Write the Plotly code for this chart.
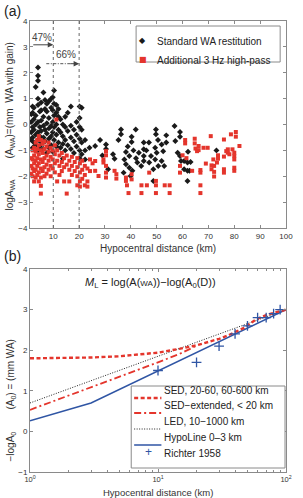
import plotly.graph_objects as go

# ---------------- Panel (a) data ----------------
std_x = ([1.5]*4 + [2.0]*5 + [2.5]*4 + [3.2]*5 + [4.1]*9 + [4.8]*4 + [5.3]*5 + [6.2]*5 +
         [6.8]*4 + [7.5]*5 + [8.3]*5 + [9.2]*5 + [9.8]*5 + [10.3]*5 + [11.2]*5 + [12.0]*4 +
         [12.8]*3 + [13.7]*4 + [14.6]*4 + [15.6]*3 + [16.8]*4 + [18.0]*3 + [19.0]*3 + [20.2]*6 +
         [21.0]*4 + [22.3]*3 +
         [24.0, 26.2, 28.1, 29.0, 30.4, 30.4, 31.2, 33.1, 33.7, 35.2, 36.2, 36.2, 37.2, 37.5,
          38.1, 38.1, 38.8, 39.4, 39.4, 39.9, 40.3, 40.3, 40.6, 41.0, 41.9, 42.0, 42.5, 43.1,
          44.0, 45.0, 45.0, 45.0, 45.0, 46.0, 47.0, 47.1, 47.8, 48.7, 48.7, 49.4, 49.4, 49.7,
          49.7, 50.0, 50.5, 50.6, 51.9, 51.9, 52.5, 52.9, 53.7, 53.7, 56.9, 57.2, 58.1, 59.0,
          59.0, 59.0, 59.4, 60.6, 60.6, 61.9, 61.9, 61.9, 62.1, 62.7, 63.1, 73.1])
std_y = ([0.4, 0.1, -0.3, -0.6] +
         [0.7, 0.45, -0.1, -0.5, -0.9] +
         [0.65, 0.2, -0.2, -0.7] +
         [1.45, 0.35, 0.0, -0.4, -0.8] +
         [2.2, 1.88, 1.69, 1.0, 0.75, 0.1, -0.3, -0.6, -1.0] +
         [0.5, -0.1, -0.45, -0.85] +
         [0.85, 0.55, 0.15, -0.25, -0.7] +
         [1.24, 0.3, -0.05, -0.5, -0.95] +
         [0.95, 0.6, -0.2, -0.65] +
         [0.8, 0.5, 0.05, -0.35, -1.1] +
         [0.9, 0.25, -0.15, -0.55, -0.9] +
         [1.0, 0.65, -0.05, -0.45, -0.8] +
         [1.05, 0.55, 0.1, -0.3, -1.05] +
         [1.31, 0.8, 0.35, -0.1, -0.6] +
         [0.75, 0.45, 0.0, -0.4, -0.85] +
         [0.6, 0.3, -0.2, -0.7] +
         [0.2, -0.3, -0.9] +
         [0.0, -0.45, -0.75, -1.32] +
         [0.3, -0.1, -0.6, -1.0] +
         [0.45, -0.25, -0.8] +
         [0.7, -0.05, -0.5, -0.95] +
         [-0.2, -0.65, -1.1] +
         [0.1, -0.4, -0.85] +
         [0.7, 0.25, -0.1, -0.55, -1.0, -1.3] +
         [0.65, -0.2, -0.7, -1.15] +
         [-0.6, -1.0, -1.35] +
         [-0.9, -0.83, -0.6, -1.2, -0.77, -0.95, -1.73, -1.15, -1.32, -0.6, -0.19, -0.38, -1.86, -1.35,
          -1.06, -1.54, -0.85, -1.22, -1.67, -1.99, -0.47, -0.68, -1.79, -1.0, -0.19, -1.3, -1.47, -1.09,
          -1.6, -0.7, -0.96, -1.22, -1.41, -1.0, -0.7, -1.47, -1.22, -1.73, -2.18, -0.9, -1.35, -0.19,
          -0.38, -1.09, -0.6, -1.6, -0.77, -1.41, -1.03, -1.6, -0.42, -0.7, -0.06, -0.64, -1.09, -0.29,
          -0.47, -1.22, -1.41, -1.41, -1.73, -1.47, -1.79, -2.18, -1.05, -1.79, -1.45, -1.0])

hp_x = ([1.5]*3 + [2.0]*4 + [2.6]*5 + [3.2]*5 + [3.8]*5 + [4.4]*6 + [5.2]*7 + [5.9]*4 +
        [6.6]*5 + [7.4]*4 + [8.2]*4 + [9.0]*4 + [9.8]*3 + [10.6]*4 + [11.2] + [11.5]*3 +
        [12.4]*3 + [13.3]*3 + [14.2]*3 + [15.2]*3 + [16.2]*3 + [17.2]*3 + [18.3]*2 + [19.3]*4 +
        [20.3]*4 + [21.2]*3 + [22.2]*3 + [23.2]*3 + [24.2]*2 +
        [25.2, 26.2, 26.2, 27.5, 29.4, 29.4, 30.4, 30.4, 30.4, 30.4, 30.4, 33.7, 34.4, 34.4,
         38.1, 38.1, 38.5, 39.1, 40.3, 40.3, 44.1, 44.1, 46.2, 47.1, 49.7, 49.7, 49.7, 53.1,
         55.0, 55.0, 59.0, 59.0, 60.0, 61.0, 61.0, 61.5, 63.7, 64.7, 64.7, 65.0, 65.6, 66.2,
         66.2, 66.9, 66.9, 66.9, 66.9, 68.1, 69.0, 69.7, 70.9, 71.2, 71.2, 71.9, 72.2, 72.2,
         72.2, 73.3, 73.7, 73.7, 76.0, 76.0, 76.0, 76.0, 76.9, 77.5, 77.5, 78.1, 78.7, 79.3,
         80.0, 80.0, 80.0, 80.0, 80.0, 80.6, 80.6, 82.0])
hp_y = ([-1.3, -1.6, -1.9] +
        [-1.0, -1.35, -1.7, -2.0] +
        [-0.9, -1.2, -1.5, -1.8, -2.2] +
        [-0.7, -1.05, -1.4, -1.75, -2.05] +
        [-0.6, -0.95, -1.3, -1.6, -1.95] +
        [-0.45, -0.8, -1.15, -1.5, -1.85, -2.2] +
        [-0.6, -1.0, -1.35, -1.7, -2.05, -2.37, -2.67] +
        [-0.75, -1.1, -1.45, -1.8] +
        [-0.65, -0.95, -1.3, -1.65, -2.0] +
        [-0.85, -1.2, -1.55, -1.9] +
        [-0.7, -1.05, -1.4, -1.75] +
        [-0.9, -1.25, -1.6, -2.0] +
        [-1.0, -1.35, -1.7] +
        [-0.8, -1.15, -1.5, -1.85] +
        [0.19] +
        [-1.0, -1.4, -2.2] +
        [-1.2, -1.6, -1.95] +
        [-1.1, -1.45, -1.8] +
        [-1.3, -1.65, -2.2] +
        [-1.2, -1.55, -2.67] +
        [-1.4, -1.75, -2.2] +
        [-1.25, -1.6, -1.95] +
        [-1.45, -1.8] +
        [-1.3, -1.65, -2.0, -2.35] +
        [-1.5, -1.85, -2.2, -2.4] +
        [-1.4, -1.75, -2.1] +
        [-1.6, -1.95, -2.35] +
        [-1.7, -2.2, -2.4] +
        [-1.35, -1.8] +
        [-1.5, -1.41, -1.79, -1.99, -1.35, -1.47, -1.03, -1.19, -1.6, -1.86, -2.05, -1.79, -1.92, -2.09,
         -2.05, -2.18, -2.35, -2.65, -1.92, -2.12, -2.35, -2.65, -2.35, -1.86, -2.18, -2.35, -2.65, -2.35,
         -2.35, -2.65, -1.6, -1.86, -1.19, -0.6, -0.73, -1.3, -1.79, -0.55, -0.73, -0.93, -1.03, -0.83,
         -0.99, -1.76, -1.86, -2.35, -2.65, -0.9, -1.51, -0.9, -0.45, -1.58, -1.73, -1.35, -1.6, -1.83,
         -2.01, -1.47, -1.19, -1.32, -0.58, -1.24, -1.73, -1.86, -1.03, -0.96, -1.09, -1.15, -0.38, -0.96,
         -1.09, -1.22, -1.35, -1.67, -1.79, -0.29, -0.47, -0.83])

a_xticks = [10, 20, 30, 40, 50, 60, 70, 80, 90, 100]
a_yticks = [-4, -3, -2, -1, 0, 1, 2, 3, 4]

# ---------------- Panel (b) data ----------------
sed_x = [1, 2, 3, 5, 8, 10, 15, 20, 30, 35, 47, 59, 71, 90, 100]
sed_y = [1.80, 1.81, 1.82, 1.85, 1.90, 1.94, 2.04, 2.12, 2.28, 2.36, 2.55, 2.77, 2.87, 2.97, 3.00]
sedx_x = [1, 2, 3, 5, 7, 10, 15, 20]
sedx_y = [0.53, 0.88, 1.09, 1.35, 1.52, 1.70, 1.92, 2.11]
led_x = [1, 100]
led_y = [0.70, 3.00]
hypo_x = [1, 3, 100]
hypo_y = [0.26, 0.70, 3.00]
richter_x = [10, 20, 30, 40, 50, 60, 70, 80, 90]
richter_y = [1.5, 1.7, 2.1, 2.4, 2.6, 2.8, 2.8, 2.9, 3.0]
b_xticks = [1, 10, 100]
b_xticktext = ["10<sup>0</sup>", "10<sup>1</sup>", "10<sup>2</sup>"]
b_minor = [2, 3, 4, 5, 6, 7, 8, 9, 20, 30, 40, 50, 60, 70, 80, 90]
b_yticks = [-1, 0, 1, 2, 3, 4]

legend_a = ["Standard WA restitution", "Additional 3 Hz high-pass"]
legend_b = ["SED, 20-60, 60-600 km", "SED\u2212extended, < 20 km", "LED, 10\u22121000 km",
            "HypoLine 0\u20133 km", "Richter 1958"]

# ---------------- styles ----------------
RED = "#e4352c"
BLACK = "#1a1a1a"
BLUE = "#2f55a4"
GRAY = "#8a8a8a"
FONT = "Liberation Sans, Arial, sans-serif"

W, H = 303, 498
ML, MR, MT, MB = 30, 10, 21, 26
PW, PH = W - ML - MR, H - MT - MB


def px_x(px):
    return (px - ML) / PW


def px_y(py):
    return (H - MB - py) / PH


fig = go.Figure()
fig.add_trace(go.Scatter(x=std_x, y=std_y, mode="markers", name=legend_a[0],
                         marker=dict(symbol="diamond", size=4.6, color=BLACK),
                         xaxis="x", yaxis="y", showlegend=False))
fig.add_trace(go.Scatter(x=hp_x, y=hp_y, mode="markers", name=legend_a[1],
                         marker=dict(symbol="square", size=4, color=RED),
                         xaxis="x", yaxis="y", showlegend=False))

fig.add_trace(go.Scatter(x=led_x, y=led_y, mode="lines", name=legend_b[2],
                         line=dict(color="#222", width=1, dash="1px,1.5px"),
                         xaxis="x2", yaxis="y2", showlegend=False))
fig.add_trace(go.Scatter(x=hypo_x, y=hypo_y, mode="lines", name=legend_b[3],
                         line=dict(color=BLUE, width=1.5),
                         xaxis="x2", yaxis="y2", showlegend=False))
fig.add_trace(go.Scatter(x=sedx_x, y=sedx_y, mode="lines", name=legend_b[1],
                         line=dict(color=RED, width=1.8, dash="7px,3px,2px,3px"),
                         xaxis="x2", yaxis="y2", showlegend=False))
fig.add_trace(go.Scatter(x=sed_x, y=sed_y, mode="lines", name=legend_b[0],
                         line=dict(color=RED, width=2.4, dash="4px,2.5px"),
                         xaxis="x2", yaxis="y2", showlegend=False))
fig.add_trace(go.Scatter(x=richter_x, y=richter_y, mode="markers", name=legend_b[4],
                         marker=dict(symbol="cross-thin", size=7, color=BLUE,
                                     line=dict(color=BLUE, width=1.3)),
                         xaxis="x2", yaxis="y2", showlegend=False))

axis_common = dict(showline=True, linecolor=GRAY, linewidth=1, mirror="ticks",
                   ticks="inside", ticklen=3, tickcolor=GRAY, tickwidth=1,
                   showgrid=False, zeroline=False,
                   tickfont=dict(size=8, color="#333", family=FONT))

fig.update_layout(
    width=W, height=H,
    margin=dict(l=ML, r=MR, t=MT, b=MB),
    paper_bgcolor="white", plot_bgcolor="white",
    font=dict(family=FONT, color="#222"),
    showlegend=False,
    xaxis=dict(axis_common, range=[1, 100], tickvals=a_xticks, anchor="y", domain=[0, 1]),
    yaxis=dict(axis_common, range=[-4, 4], tickvals=a_yticks, anchor="x",
               domain=[px_y(228), 1.0]),
    xaxis2=dict(axis_common, type="log", range=[0, 2], tickvals=b_xticks, ticktext=b_xticktext,
                anchor="y2", domain=[0, 1], tickfont=dict(size=7.5, color="#333", family=FONT),
                minor=dict(tickvals=b_minor, ticks="inside", ticklen=2, tickcolor=GRAY)),
    yaxis2=dict(axis_common, range=[-1, 4], tickvals=b_yticks, anchor="x2",
                domain=[0, px_y(269)]),
)

shapes = []
annotations = []

# vertical dotted lines at 10 and 20 km
for xv in (10, 20):
    shapes.append(dict(type="line", xref="x", yref="y domain", x0=xv, x1=xv, y0=0, y1=1,
                       line=dict(color="#666", width=1, dash="dot"), layer="above"))

# 47% arrow
annotations.append(dict(xref="x", yref="y", axref="x", ayref="y", x=10, y=3.08, ax=1.7, ay=3.08,
                        text="", showarrow=True, arrowhead=2, arrowsize=1.1, arrowwidth=1,
                        arrowcolor="#444"))
annotations.append(dict(xref="x", yref="y", x=5.8, y=3.36, text="47%", showarrow=False,
                        font=dict(size=10, color="#444")))
# 66% arrow (dash-dot shaft + head)
shapes.append(dict(type="line", xref="x", yref="y", x0=7.3, x1=17, y0=2.35, y1=2.35,
                   line=dict(color="#555", width=1, dash="3px,1.5px,1px,1.5px")))
annotations.append(dict(xref="x", yref="y", axref="x", ayref="y", x=20, y=2.35, ax=16, ay=2.35,
                        text="", showarrow=True, arrowhead=2, arrowsize=1.1, arrowwidth=1,
                        arrowcolor="#444"))
annotations.append(dict(xref="x", yref="y", x=14.8, y=2.69, text="66%", showarrow=False,
                        font=dict(size=10, color="#444")))

# panel labels
annotations.append(dict(xref="paper", yref="paper", x=px_x(1), y=px_y(11), xanchor="left",
                        yanchor="middle", text="(a)", showarrow=False, font=dict(size=14, color="#222")))
annotations.append(dict(xref="paper", yref="paper", x=px_x(1), y=px_y(256), xanchor="left",
                        yanchor="middle", text="(b)", showarrow=False, font=dict(size=14, color="#222")))

# axis titles
annotations.append(dict(xref="paper", yref="paper", x=px_x(162), y=px_y(248), text="Hypocentral distance (km)",
                        showarrow=False, font=dict(size=10, color="#333")))
annotations.append(dict(xref="paper", yref="paper", x=px_x(162), y=px_y(498.5), yanchor="bottom",
                        borderpad=0, text="Hypocentral distance (km)",
                        showarrow=False, font=dict(size=9.5, color="#333")))
ytitle_parts = [("logA<sub>WA</sub>", 9, 195), ("(A<sub>WA</sub>)=(mm  WA with gain)", 9, 100),
                ("\u2212logA<sub>0</sub>", 10, 447), ("(A<sub>0</sub>) = (mm WA)", 10, 375)]
for txt, xx, yy in ytitle_parts:
    annotations.append(dict(xref="paper", yref="paper", x=px_x(xx), y=px_y(yy), textangle=-90,
                            xanchor="center", yanchor="middle",
                            text=txt, showarrow=False, font=dict(size=10, color="#333")))

# formula
annotations.append(dict(xref="paper", yref="paper", x=px_x(154), y=px_y(283),
                        text="<i>M</i><sub>L</sub> = log(A(<span style='font-size:8px'>WA</span>))\u2212log(A<sub>0</sub>(D))",
                        showarrow=False, font=dict(size=11, color="#222")))

# legend (a)
shapes.append(dict(type="rect", xref="paper", yref="paper", x0=px_x(139), x1=px_x(287),
                   y0=px_y(62), y1=px_y(26), line=dict(color=GRAY, width=1), fillcolor="white",
                   layer="above"))
annotations.append(dict(xref="paper", yref="paper", x=px_x(146), y=px_y(34.5), text="\u25c6",
                        showarrow=False, font=dict(size=8, color=BLACK, family="DejaVu Sans")))
annotations.append(dict(xref="paper", yref="paper", x=px_x(146), y=px_y(53), text="\u25a0",
                        showarrow=False, font=dict(size=8, color=RED, family="DejaVu Sans")))
for txt, yy in zip(legend_a, (34.5, 53)):
    annotations.append(dict(xref="paper", yref="paper", x=px_x(158), y=px_y(yy), xanchor="left",
                            text=txt, showarrow=False, font=dict(size=10, color="#222")))

# legend (b)
shapes.append(dict(type="rect", xref="paper", yref="paper", x0=px_x(134), x1=px_x(292),
                   y0=px_y(468), y1=px_y(386), line=dict(color=GRAY, width=1), fillcolor="white",
                   layer="above"))
rows_b = [398, 413, 429, 445, 461]
samples = [dict(color=RED, width=2.4, dash="4px,2.5px"),
           dict(color=RED, width=1.8, dash="7px,3px,2px,3px"),
           dict(color="#222", width=1, dash="1px,1.5px"),
           dict(color=BLUE, width=1.5, dash="solid")]
for ln, yy in zip(samples, rows_b[:4]):
    shapes.append(dict(type="line", xref="paper", yref="paper", x0=px_x(137), x1=px_x(165),
                       y0=px_y(yy), y1=px_y(yy), line=ln, layer="above"))
annotations.append(dict(xref="paper", yref="paper", x=px_x(152), y=px_y(rows_b[4]), text="+",
                        showarrow=False, font=dict(size=12, color=BLUE)))
for txt, yy in zip(legend_b, rows_b):
    annotations.append(dict(xref="paper", yref="paper", x=px_x(166), y=px_y(yy), xanchor="left",
                            text=txt, showarrow=False, font=dict(size=10, color="#222")))

fig.update_layout(shapes=shapes, annotations=annotations)
fig.write_html("out.html")
